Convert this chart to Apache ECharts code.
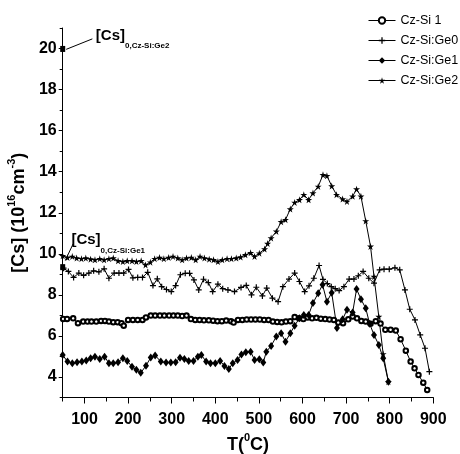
<!DOCTYPE html>
<html>
<head>
<meta charset="utf-8">
<script src="https://cdn.jsdelivr.net/npm/echarts@6/dist/echarts.min.js"></script>
<style>
  html, body { margin: 0; padding: 0; background: #fff; }
  #chart { width: 460px; height: 454px; }
</style>
</head>
<body>
<div id="chart"></div>
<script>
// Substitutional carbon concentration [Cs] (10^16 cm^-3) versus annealing temperature T (°C)

const seriesNames = ['Cz-Si 1', 'Cz-Si:Ge0', 'Cz-Si:Ge1', 'Cz-Si:Ge2'];

const tempCzSi1 = [51, 60, 74, 85, 97, 107, 116, 127, 138, 147, 156, 166, 176, 185, 190, 200, 211, 222, 233, 241,
  252, 262, 273, 283, 294, 304, 314, 324, 334, 344, 354, 364, 374, 385, 395, 405, 415, 425, 436, 442,
  452, 462, 472, 482, 492, 502, 512, 522, 532, 542, 552, 562, 572, 582, 592, 602, 612, 622, 632, 642,
  652, 662, 672, 682, 693, 705, 715, 725, 735, 745, 756, 768, 779, 790, 802, 814, 825, 837, 848, 857,
  866, 877, 886];
const cCzSi1 = [6.83, 6.83, 6.86, 6.62, 6.70, 6.70, 6.70, 6.70, 6.73, 6.73, 6.70, 6.67, 6.67, 6.62, 6.50, 6.78, 6.78, 6.78, 6.78, 6.90,
  6.99, 6.99, 6.99, 6.99, 6.99, 6.99, 6.99, 6.97, 6.99, 6.82, 6.78, 6.78, 6.76, 6.76, 6.74, 6.72, 6.72, 6.75, 6.72, 6.65,
  6.78, 6.78, 6.80, 6.80, 6.80, 6.80, 6.78, 6.78, 6.70, 6.68, 6.66, 6.70, 6.72, 6.92, 6.86, 6.82, 6.90, 6.86, 6.88, 6.84,
  6.82, 6.80, 6.78, 6.65, 6.62, 6.81, 6.94, 6.86, 6.73, 6.70, 6.59, 6.72, 6.60, 6.30, 6.30, 6.26, 5.84, 5.28, 4.75, 4.42,
  4.10, 3.72, 3.37];

const tempGe0 = [52, 63, 75, 87, 98, 110, 121, 133, 145, 156, 168, 179, 190, 201, 211, 222, 233, 245, 257, 267,
  277, 288, 299, 309, 320, 331, 341, 351, 362, 373, 384, 394, 406, 417, 429, 444, 459, 471, 483, 494,
  508, 518, 531, 544, 555, 569, 582, 593, 605, 615, 626, 638, 647, 657, 666, 675, 684, 695, 707, 718,
  728, 739, 752, 764, 777, 787, 799, 812, 823, 835, 846, 858, 870, 881, 891];
const cGe0 = [9.30, 9.14, 8.85, 9.06, 8.95, 9.06, 9.17, 9.12, 9.27, 8.81, 9.06, 9.06, 9.06, 9.24, 8.83, 8.85, 8.85, 9.10, 8.45, 8.78,
  8.40, 8.26, 8.16, 8.45, 8.98, 9.05, 9.05, 8.73, 8.24, 8.76, 8.60, 8.16, 8.52, 8.30, 8.24, 8.16, 8.36, 8.46, 8.00, 8.37,
  7.95, 8.33, 7.84, 7.67, 8.40, 8.77, 9.06, 8.65, 8.16, 8.44, 8.81, 9.43, 8.75, 8.55, 8.40, 8.30, 8.21, 8.40, 8.77, 8.77,
  8.93, 9.14, 8.81, 8.57, 9.22, 9.25, 9.25, 9.32, 9.22, 8.24, 7.30, 6.78, 6.05, 5.40, 4.26];

const tempGe1 = [50, 61, 72, 83, 94, 104, 114, 124, 135, 146, 156, 166, 177, 188, 198, 209, 219, 229, 241, 252,
  262, 275, 287, 298, 309, 319, 329, 339, 350, 360, 368, 379, 389, 400, 411, 421, 431, 440, 451, 460,
  470, 481, 490, 501, 510, 517, 528, 540, 551, 561, 572, 582, 593, 603, 614, 624, 636, 646, 656, 667,
  679, 692, 702, 715, 724, 734, 745, 754, 764, 775, 785, 797];
const cGe1 = [5.07, 4.75, 4.67, 4.72, 4.75, 4.80, 4.91, 4.99, 4.88, 4.99, 4.67, 4.67, 4.72, 4.91, 4.78, 4.50, 4.35, 4.20, 4.55, 4.95,
  5.05, 4.75, 4.70, 4.70, 4.72, 4.94, 4.88, 4.78, 4.78, 4.99, 5.07, 4.75, 4.67, 4.67, 4.78, 4.54, 4.39, 4.67, 4.83, 5.10,
  5.20, 5.23, 4.83, 4.86, 4.70, 5.23, 5.51, 5.97, 6.13, 5.72, 6.13, 6.50, 6.86, 7.02, 7.02, 7.60, 8.08, 8.49, 7.67, 8.10,
  6.38, 6.81, 7.27, 7.14, 8.28, 7.79, 7.35, 6.59, 6.05, 5.56, 4.91, 3.77];

const tempGe2 = [50, 61, 72, 82, 93, 103, 114, 124, 135, 145, 156, 166, 177, 188, 198, 209, 219, 230, 240, 251,
  261, 272, 282, 293, 303, 314, 324, 334, 345, 355, 365, 375, 386, 396, 406, 416, 427, 437, 448, 458,
  469, 481, 490, 501, 513, 520, 528, 540, 551, 561, 572, 582, 593, 603, 614, 624, 636, 647, 656, 667,
  678, 692, 702, 715, 724, 734, 745, 756, 764, 775, 785, 797];
const cGe2 = [9.90, 9.82, 9.87, 9.79, 9.76, 9.79, 9.74, 9.71, 9.76, 9.71, 9.76, 9.79, 9.66, 9.62, 9.66, 9.66, 9.62, 9.66, 9.46, 9.59,
  9.76, 9.82, 9.76, 9.82, 9.87, 9.79, 9.71, 9.79, 9.82, 9.71, 9.87, 9.79, 9.74, 9.71, 9.62, 9.71, 9.76, 9.76, 9.79, 9.84,
  9.95, 10.05, 9.87, 10.03, 10.23, 10.50, 10.77, 11.09, 11.56, 11.66, 12.18, 12.50, 12.63, 12.88, 12.63, 12.96, 13.28, 13.85, 13.80, 13.30,
  12.88, 12.67, 12.55, 12.80, 13.15, 12.80, 11.60, 10.36, 8.89, 6.94, 5.12, 3.77];

// Initial concentrations [Cs]0 marked at the start of the temperature axis
const initialTemp = [50, 50];
const initialConc = [19.98, 9.35];
const initialSubscripts = ['0,Cz-Si:Ge2', '0,Cz-Si:Ge1'];
// where each [Cs]0 caption sits, and the arrows from caption to marker
const captionTemp = [126, 70];
const captionConc = [20.45, 10.5];
const arrowFrom = [[118, 20.47], [74, 10.49]];
const arrowTo = [[58, 19.96], [56, 9.68]];

// Axis ticks
const xMajorTicks = [100, 200, 300, 400, 500, 600, 700, 800, 900];
const xMinorTicks = [50, 150, 250, 350, 450, 550, 650, 750, 850];
const yMajorTicks = [4, 6, 8, 10, 12, 14, 16, 18, 20];
const yMinorTicks = [3, 5, 7, 9, 11, 13, 15, 17, 19, 21];

const FONT = '"Liberation Sans", Arial, Helvetica, sans-serif';

const pairs = (xs, ys) => xs.map((x, i) => [x, ys[i]]);

const PLUS = 'path://M2,0H3V2H5V3H3V5H2V3H0V2H2Z';
const STAR = 'path://M50,0L61,35L98,35L68,57L79,91L50,70L21,91L32,57L2,35L39,35Z';

function lineSeries(name, data, symbol, size, borderWidth) {
  return {
    name: name,
    type: 'line',
    data: data,
    symbol: symbol,
    symbolSize: size,
    showAllSymbol: true,
    clip: false,
    lineStyle: { color: '#000', width: 1 },
    itemStyle: { color: '#000', borderColor: '#000', borderWidth: borderWidth, opacity: 1 },
    emphasis: { disabled: true },
    z: 3
  };
}

const chart = echarts.init(document.getElementById('chart'), null, { renderer: 'canvas' });

chart.setOption({
  animation: false,
  backgroundColor: '#fff',
  grid: { left: 62.7, right: 26.7, top: 28, bottom: 56.5, containLabel: false, outerBoundsMode: 'none' },
  legend: {
    data: seriesNames,
    orient: 'vertical',
    left: 368,
    top: 14,
    padding: 0,
    itemWidth: 27,
    itemHeight: 8,
    itemGap: 7,
    selectedMode: false,
    lineStyle: { width: 1, color: '#000' },
    textStyle: { fontFamily: FONT, fontSize: 12.5, color: '#000' }
  },
  xAxis: [
    {
      type: 'value', min: 50, max: 900, position: 'bottom',
      axisLine: { show: true, onZero: false, lineStyle: { color: '#000', width: 1 } },
      axisTick: { show: true, customValues: xMajorTicks, length: 6, lineStyle: { color: '#000', width: 1 } },
      axisLabel: { customValues: xMajorTicks, fontFamily: FONT, fontWeight: 'bold', fontSize: 16, color: '#000', margin: 14 },
      splitLine: { show: false },
      name: '{m|T(}{sup|0}{m|C)}',
      nameLocation: 'middle',
      nameGap: 30,
      nameTextStyle: {
        rich: {
          m: { fontFamily: FONT, fontWeight: 'bold', fontSize: 18, color: '#000', verticalAlign: 'bottom', lineHeight: 22 },
          sup: { fontFamily: FONT, fontWeight: 'bold', fontSize: 11, color: '#000', verticalAlign: 'top', lineHeight: 12 }
        }
      }
    },
    {
      type: 'value', min: 50, max: 900, position: 'bottom',
      axisLine: { show: false, onZero: false },
      axisTick: { show: true, customValues: xMinorTicks, length: 4, lineStyle: { color: '#000', width: 1 } },
      axisLabel: { show: false },
      splitLine: { show: false }
    }
  ],
  yAxis: [
    {
      type: 'value', min: 3, max: 21, position: 'left',
      axisLine: { show: true, onZero: false, lineStyle: { color: '#000', width: 1 } },
      axisTick: { show: true, customValues: yMajorTicks, length: 4, lineStyle: { color: '#000', width: 1 } },
      axisLabel: { customValues: yMajorTicks, fontFamily: FONT, fontWeight: 'bold', fontSize: 16, color: '#000', margin: 6 },
      splitLine: { show: false },
      name: '{m|[Cs] (10}{sup|16}{m|cm}{sup|-3}{m|)}',
      nameLocation: 'middle',
      nameRotate: 90,
      nameGap: 27,
      nameTextStyle: {
        rich: {
          m: { fontFamily: FONT, fontWeight: 'bold', fontSize: 18, color: '#000', verticalAlign: 'bottom', lineHeight: 22 },
          sup: { fontFamily: FONT, fontWeight: 'bold', fontSize: 11, color: '#000', verticalAlign: 'top', lineHeight: 12 }
        }
      }
    },
    {
      type: 'value', min: 3, max: 21, position: 'left',
      axisLine: { show: false, onZero: false },
      axisTick: { show: true, customValues: yMinorTicks, length: 3, lineStyle: { color: '#000', width: 1 } },
      axisLabel: { show: false },
      splitLine: { show: false }
    }
  ],
  series: [
    lineSeries(seriesNames[0], pairs(tempCzSi1, cCzSi1), 'emptyCircle', 4.5, 1),
    lineSeries(seriesNames[1], pairs(tempGe0, cGe0), PLUS, 6, 0),
    lineSeries(seriesNames[2], pairs(tempGe1, cGe1), 'diamond', [6, 8], 0),
    lineSeries(seriesNames[3], pairs(tempGe2, cGe2), STAR, 7, 0),
    {
      // [Cs]0 markers with arrows from their captions
      name: 'initial',
      type: 'scatter',
      data: pairs(initialTemp, initialConc),
      symbol: 'rect',
      symbolSize: [5, 6],
      clip: false,
      itemStyle: { color: '#000', opacity: 1 },
      emphasis: { disabled: true },
      z: 5,
      markLine: {
        silent: true,
        symbol: ['none', 'arrow'],
        symbolSize: [0, 7],
        label: { show: false },
        lineStyle: { color: '#000', width: 1, type: 'solid', opacity: 1 },
        data: arrowFrom.map((f, i) => [{ coord: f }, { coord: arrowTo[i] }])
      }
    },
    {
      name: 'initialCaptions',
      type: 'scatter',
      data: captionTemp.map((t, i) => [t, captionConc[i], initialSubscripts[i]]),
      symbol: 'circle',
      symbolSize: 0.01,
      clip: false,
      itemStyle: { color: '#000', opacity: 1 },
      emphasis: { disabled: true },
      label: {
        show: true,
        position: 'right',
        distance: 0,
        color: '#000',
        opacity: 1,
        textBorderWidth: 0,
        formatter: p => '{m|[Cs]}{s|' + p.data[2] + '}',
        rich: {
          m: { fontFamily: FONT, fontWeight: 'bold', fontSize: 15, color: '#000', verticalAlign: 'top', lineHeight: 22 },
          s: { fontFamily: FONT, fontWeight: 'bold', fontSize: 8, color: '#000', verticalAlign: 'bottom', lineHeight: 10 }
        }
      },
      z: 5
    }
  ]
});
</script>
</body>
</html>
